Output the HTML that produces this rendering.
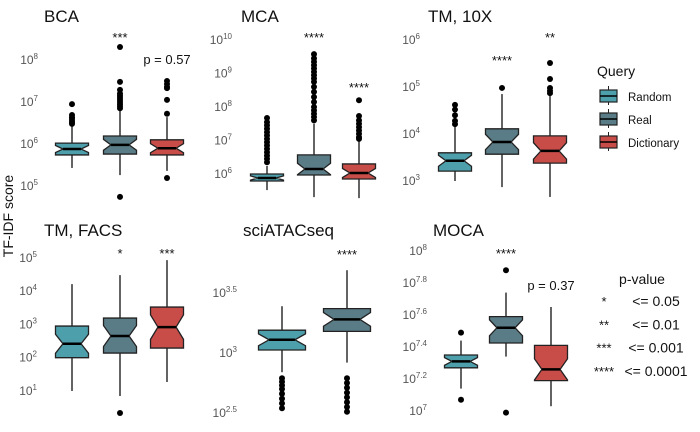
<!DOCTYPE html>
<html><head><meta charset="utf-8"><style>
body{margin:0;background:#fff}
svg{display:block;font-family:"Liberation Sans",sans-serif}
</style></head><body>
<svg id="chart" width="700" height="432" viewBox="0 0 700 432"></svg>
<script>
// ---------- data (log10 values) ----------
const groups = ["Random","Real","Dictionary"];
const panelTitles = ["BCA","MCA","TM, 10X","TM, FACS","sciATACseq","MOCA"];
// stats: [lowWhisker, q1, median, q3, highWhisker]
const bcaStats = [[5.43,5.74,5.88,6.02,6.45],[5.26,5.76,5.98,6.19,6.81],[5.36,5.74,5.90,6.10,6.64]];
const bcaOut = [[6.95,6.69,6.64,6.60,6.55,6.51,6.48],[8.31,7.48,7.29,7.2,7.15,7.1,7.05,7.0,6.95,6.9,6.85,4.74],[7.5,7.43,7.36,7.33,7.05,6.72,5.19]];
const mcaStats = [[5.52,5.79,5.88,6.0,6.24],[5.31,5.97,6.15,6.57,7.5],[5.28,5.85,6.03,6.3,6.99]];
const mcaOut = [[7.67,7.55,7.45,7.35,7.25,7.15,7.05,6.95,6.85,6.75,6.65,6.55,6.45,6.35],[9.58,9.45,9.35,9.25,9.15,9.05,8.95,8.85,8.75,8.6,8.45,8.3,8.15,8.0,7.9,7.8,7.7,7.6],[8.2,7.73,7.6,7.5,7.4,7.3,7.2,7.1,7.05]];
const tm10xStats = [[3.0,3.21,3.43,3.60,4.15],[2.87,3.57,3.83,4.11,4.85],[2.66,3.38,3.64,3.96,4.81]];
const tm10xOut = [[4.62,4.52,4.40,4.28,4.21],[4.98],[5.51,5.17,4.98,4.92,4.87]];
const facsStats = [[1.0,2.0,2.42,2.95,4.21],[0.85,2.14,2.65,3.19,4.48],[1.27,2.29,2.92,3.52,4.93]];
const facsOut = [[],[0.34],[]];
const atacStats = [[2.84,3.025,3.11,3.19,3.39],[2.92,3.18,3.28,3.37,3.69]];
const atacOut = [[2.79,2.76,2.73,2.70,2.66,2.62,2.58,2.54],[2.79,2.75,2.71,2.67,2.63,2.59,2.55,2.51]];
const mocaStats = [[7.14,7.27,7.31,7.35,7.44],[7.34,7.425,7.52,7.59,7.74],[7.03,7.19,7.26,7.41,7.65]];
const mocaOut = [[7.49,7.07],[7.88,6.99],[]];
const bcaTicks = [5,6,7,8];
const mcaTicks = [6,7,8,9,10];
const tm10xTicks = [3,4,5,6];
const facsTicks = [1,2,3,4,5];
const atacTicks = [2.5,3,3.5];
const mocaTicks = [7,7.2,7.4,7.6,7.8,8];
const bcaSig = ["","***","p = 0.57"];
const mcaSig = ["","****","****"];
const tm10xSig = ["","****","**"];
const facsSig = ["","*","***"];
const atacSig = ["","****"];
const mocaSig = ["","****","p = 0.37"];
const pLegendStars = ["*","**","***","****"];
const pLegendVals = ["<= 0.05","<= 0.01","<= 0.001","<= 0.0001"];

// ---------- layout ----------
const colors = {Random:"#4e9fac",Real:"#5a7c86",Dictionary:"#c84d49"};
const layout = [
 {title:panelTitles[0],tx:44,ty:22,stats:bcaStats,out:bcaOut,ticks:bcaTicks,sig:bcaSig,sigY:[0,42,64],ref:6,refY:144,ppu:42,labX:38,xs:[72,120,167],bw:33},
 {title:panelTitles[1],tx:241,ty:22,stats:mcaStats,out:mcaOut,ticks:mcaTicks,sig:mcaSig,sigY:[0,42,92],ref:6,refY:174,ppu:33.5,labX:232,xs:[267,314,359],bw:33},
 {title:panelTitles[2],tx:428,ty:22,stats:tm10xStats,out:tm10xOut,ticks:tm10xTicks,sig:tm10xSig,sigY:[0,65,42],ref:3,refY:181,ppu:47,labX:420,xs:[455,502,550],bw:33},
 {title:panelTitles[3],tx:44,ty:236,stats:facsStats,out:facsOut,ticks:facsTicks,sig:facsSig,sigY:[0,258,258],ref:1,refY:391,ppu:33.3,labX:37,xs:[72,120,167],bw:33},
 {title:panelTitles[4],tx:243,ty:236,stats:atacStats,out:atacOut,ticks:atacTicks,sig:atacSig,sigY:[0,259],ref:3,refY:353,ppu:120,labX:237,xs:[282,347],bw:47},
 {title:panelTitles[5],tx:433,ty:236,stats:mocaStats,out:mocaOut,ticks:mocaTicks,sig:mocaSig,sigY:[0,258,290],ref:7,refY:411,ppu:160,labX:427,xs:[461,506,551],bw:33}
];
const NS="http://www.w3.org/2000/svg";
const svg=document.getElementById('chart');
function mk(tag,attrs,parent){const e=document.createElementNS(NS,tag);for(const k in attrs)e.setAttribute(k,attrs[k]);(parent||svg).appendChild(e);return e;}

layout.forEach((p,pi)=>{
  const g=mk('g',{});
  
  
  const yS=v=>p.refY-(v-p.ref)*p.ppu;
  const t=mk('text',{x:p.tx,y:p.ty,'font-size':17,fill:'#111'},g);t.textContent=p.title;
  
  
  p.ticks.forEach(tv=>{
    const tt=mk('text',{x:p.labX,y:yS(tv)+4,'text-anchor':'end','font-size':12,fill:'#555'},g);
    
    
    const b=document.createElementNS(NS,'tspan');b.textContent='10';tt.appendChild(b);
    const s=document.createElementNS(NS,'tspan');s.setAttribute('dy','-5');s.setAttribute('font-size','8');s.textContent=String(tv);tt.appendChild(s);
  });
  p.stats.forEach((st,i)=>{
    const [lo,q1,md,q3,hi]=st;const cx=p.xs[i];const hw=p.bw/2;
    const bg=mk('g',{},g);
    
    
    mk('line',{x1:cx,x2:cx,y1:yS(hi),y2:yS(q3),stroke:'#111','stroke-width':1.3},bg);
    mk('line',{x1:cx,x2:cx,y1:yS(q1),y2:yS(lo),stroke:'#111','stroke-width':1.3},bg);
    const iqr=q3-q1;const nd=Math.min(0.3*iqr,(md-q1)*0.95,(q3-md)*0.95);
    const nh=yS(md+nd),nl=yS(md-nd),yt=yS(q3),yb=yS(q1),yc=yS(md),nw=hw*0.55;
    const d=`M${cx-hw},${yt}H${cx+hw}V${nh}L${cx+nw},${yc}L${cx+hw},${nl}V${yb}H${cx-hw}V${nl}L${cx-nw},${yc}L${cx-hw},${nh}Z`;
    mk('path',{d,fill:colors[groups[i]],stroke:'#222','stroke-width':1.3},bg);
    mk('line',{x1:cx-nw,x2:cx+nw,y1:yc,y2:yc,stroke:'#000','stroke-width':2.5},bg);
    p.out[i].forEach(v=>{const c=mk('circle',{cx,cy:yS(v),r:3,fill:'#000'},bg);
      
      });
    if(p.sig[i]){const isP=p.sig[i].startsWith('p');
      const st2=mk('text',{x:cx,y:p.sigY[i],'text-anchor':'middle','font-size':13,fill:'#111'},g);
      st2.textContent=p.sig[i];
      
      }
  });
});
// y axis title
const yt=mk('text',{x:0,y:0,transform:'translate(13,216) rotate(-90)','text-anchor':'middle','font-size':14,fill:'#111'});
yt.textContent='TF-IDF score';


// query legend
const lg=mk('g',{});


const lt=mk('text',{x:597,y:76,'font-size':14,fill:'#111'},lg);lt.textContent='Query';
groups.forEach((gname,i)=>{
  const y=88+i*23;
  const e=mk('g',{},lg);
  
  
  mk('line',{x1:608.5,x2:608.5,y1:y-2,y2:y+17,stroke:'#222','stroke-width':1},e);
  mk('rect',{x:600,y:y+2,width:17,height:12,fill:colors[gname],stroke:'#222','stroke-width':1.2},e);
  mk('line',{x1:600,x2:617,y1:y+8,y2:y+8,stroke:'#000','stroke-width':1.5},e);
  const tx=mk('text',{x:628,y:y+13,'font-size':11.5,fill:'#111'},e);tx.textContent=gname;
});
// p-value legend
const pg=mk('g',{});


const pt=mk('text',{x:642,y:284,'text-anchor':'middle','font-size':14,fill:'#111'},pg);pt.textContent='p-value';
pLegendStars.forEach((s,i)=>{
  const y=306+i*23.3;
  const a=mk('text',{x:604,y,'text-anchor':'middle','font-size':13,fill:'#111'},pg);a.textContent=s;
  
  
  const b=mk('text',{x:656,y,'text-anchor':'middle','font-size':14,fill:'#111'},pg);b.textContent=pLegendVals[i];
  
  
});
</script>
</body></html>
